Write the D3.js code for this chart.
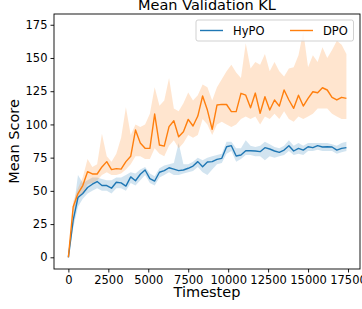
<!DOCTYPE html>
<html>
<head>
<meta charset="utf-8">
<script src="https://cdn.jsdelivr.net/npm/d3@7"></script>
<style>
  body { margin: 0; background: #fff; }
  svg { display: block; font-family: "DejaVu Sans", sans-serif; }
</style>
</head>
<body>
<div id="chart"></div>
<script>
// timesteps of each evaluation
const steps = [0, 300, 600, 900, 1200, 1500, 1800, 2100, 2400, 2700, 3000, 3300, 3600, 3900, 4200,
  4500, 4800, 5100, 5400, 5700, 6000, 6300, 6600, 6900, 7200, 7500, 7800, 8100, 8400, 8700,
  9000, 9300, 9600, 9900, 10200, 10500, 10800, 11100, 11400, 11700, 12000, 12300, 12600, 12900,
  13200, 13500, 13800, 14100, 14400, 14700, 15000, 15300, 15600, 15900, 16200, 16500, 16800,
  17100, 17400];

const hypoMean = [0, 28, 45, 48, 52.5, 55, 57, 54, 54, 52, 56.5, 56, 53.6, 60.5, 57.6,
  62.5, 65.7, 59.2, 57.4, 64, 65.2, 67.4, 66.4, 65.2, 65.7, 67, 68.7, 72, 68.2, 71.7,
  72, 73.7, 74.5, 83.2, 84, 76.2, 77, 80.2, 80.2, 80, 79.5, 82.5, 81.5, 80,
  79, 80.7, 84, 80, 82, 80.7, 83.2, 82.5, 84, 83, 83.2, 83, 80.7, 82, 82.5];
const hypoHigh = [0, 34, 62, 56, 58, 60, 60, 59, 58, 58, 60, 60, 62, 64, 63,
  66, 68, 63, 61, 67, 69, 70, 71, 86, 70, 70, 72, 75, 73, 75,
  76, 77, 78, 87, 87, 82, 82, 88, 84, 83, 84, 87, 85, 83,
  82, 84, 88, 84, 86, 84, 86, 86, 86, 86, 86, 85, 84, 86, 87];
const hypoLow = [0, 22, 38, 44, 48, 50, 52, 50, 50, 48, 52, 52, 50, 56, 54,
  58, 62, 56, 54, 60, 62, 64, 62, 62, 63, 64, 65, 68, 64, 62,
  66, 70, 71, 78, 80, 72, 74, 77, 77, 76, 76, 73, 76, 75,
  76, 77, 80, 77, 78, 77, 80, 80, 81, 80, 80, 80, 78, 79, 80];

const dpoMean = [0, 38, 48, 54, 64.4, 62.7, 62.7, 68, 72, 66, 66.7, 66.4, 72, 76, 95.8,
  86, 82, 82, 107.8, 84.5, 83.7, 98.3, 102.8, 90.7, 94.5, 103.8, 98.8, 106.3, 121.4, 110.8,
  96.3, 114.6, 115.1, 115, 109.6, 109.6, 123.4, 122, 112.5, 123.6, 108.4, 120.8, 110.8, 118.4,
  113.8, 125.9, 118.4, 112.1, 122, 113.8, 119.6, 124.6, 123.8, 127.6, 125.9, 120.4, 118.4, 120.4, 119.6];
const dpoHigh = [0, 42, 52, 60, 74, 68, 70, 93, 76, 72, 78, 90, 113, 92, 100,
  98, 100, 108, 128, 114, 118, 135, 112, 110, 116, 124, 118, 122, 130, 128,
  118, 128, 134, 140, 145, 139, 135, 161, 142, 147, 145, 153, 140, 147,
  140, 136, 142, 143, 152, 170, 143, 152, 147, 158, 150, 156, 163, 160, 153];
const dpoLow = [0, 34, 44, 48, 55, 56, 58, 62, 64, 62, 62, 63, 66, 70, 76,
  76, 74, 74, 82, 78, 76, 84, 88, 82, 86, 92, 90, 92, 104, 100,
  92, 100, 102, 100, 98, 100, 104, 106, 104, 106, 100, 106, 104, 108,
  104, 110, 104, 102, 106, 104, 106, 108, 112, 112, 112, 108, 106, 104, 104];

const xTicks = [0, 2500, 5000, 7500, 10000, 12500, 15000, 17500];
const yTicks = [0, 25, 50, 75, 100, 125, 150, 175];

const W = 362, H = 309;
const pLeft = 54, pRight = 360, pTop = 14, pBottom = 269;

const svg = d3.select('#chart').append('svg')
  .attr('width', W)
  .attr('height', H);

const x = d3.scaleLinear().domain([-900, 18250]).range([pLeft, pRight]);
const y = d3.scaleLinear().domain([-8.8, 183.1]).range([pBottom, pTop]);

const series = [
  { name: 'HyPO', color: '#1f77b4', mean: hypoMean, hi: hypoHigh, lo: hypoLow },
  { name: 'DPO', color: '#ff7f0e', mean: dpoMean, hi: dpoHigh, lo: dpoLow }
];

const area = d3.area()
  .x((d, i) => x(steps[i]))
  .y0(d => y(d[0]))
  .y1(d => y(d[1]));

const line = d3.line()
  .x((d, i) => x(steps[i]))
  .y(d => y(d));

series.forEach(s => {
  svg.append('path')
    .datum(s.lo.map((v, i) => [v, s.hi[i]]))
    .attr('d', area)
    .attr('fill', s.color)
    .attr('fill-opacity', 0.2)
    .attr('stroke', 'none');
});

series.forEach(s => {
  svg.append('path')
    .datum(s.mean)
    .attr('d', line)
    .attr('fill', 'none')
    .attr('stroke', s.color)
    .attr('stroke-width', 1.4)
    .attr('stroke-linejoin', 'round');
});

// axes
const xAxis = d3.axisBottom(x).tickValues(xTicks).tickSize(3.5).tickPadding(3).tickFormat(d3.format('d'));
const yAxis = d3.axisLeft(y).tickValues(yTicks).tickSize(3.5).tickPadding(3).tickFormat(d3.format('d'));

const gx = svg.append('g')
  .attr('transform', `translate(0, ${pBottom})`)
  .call(xAxis);
const gy = svg.append('g')
  .attr('transform', `translate(${pLeft}, 0)`)
  .call(yAxis);

[gx, gy].forEach(g => {
  g.select('.domain').remove();
  g.selectAll('.tick line').attr('stroke', '#000').attr('stroke-width', 0.9);
  g.selectAll('.tick text')
    .attr('fill', '#000')
    .style('font-size', '11.5px')
    .style('font-family', '"DejaVu Sans", sans-serif');
});

// frame
svg.append('rect')
  .attr('x', pLeft)
  .attr('y', pTop)
  .attr('width', pRight - pLeft)
  .attr('height', pBottom - pTop)
  .attr('fill', 'none')
  .attr('stroke', '#000')
  .attr('stroke-width', 0.9);

// labels
svg.append('text')
  .attr('x', (pLeft + pRight) / 2)
  .attr('y', 9.5)
  .attr('text-anchor', 'middle')
  .style('font-size', '14.5px')
  .text('Mean Validation KL');

svg.append('text')
  .attr('x', (pLeft + pRight) / 2)
  .attr('y', 297)
  .attr('text-anchor', 'middle')
  .style('font-size', '14.5px')
  .text('Timestep');

svg.append('text')
  .attr('transform', `translate(19, ${(pTop + pBottom) / 2}) rotate(-90)`)
  .attr('text-anchor', 'middle')
  .style('font-size', '14.5px')
  .text('Mean Score');

// legend
const lg = svg.append('g');
lg.append('rect')
  .attr('x', 196)
  .attr('y', 20)
  .attr('width', 157.5)
  .attr('height', 21)
  .attr('rx', 2)
  .attr('fill', '#fff')
  .attr('fill-opacity', 0.8)
  .attr('stroke', '#cccccc')
  .attr('stroke-width', 0.9);

const legendPos = [200, 290];
series.forEach((s, i) => {
  const lx = legendPos[i];
  lg.append('line')
    .attr('x1', lx)
    .attr('x2', lx + 23)
    .attr('y1', 30.5)
    .attr('y2', 30.5)
    .attr('stroke', s.color)
    .attr('stroke-width', 1.4);
  lg.append('text')
    .attr('x', lx + 33)
    .attr('y', 34.5)
    .style('font-size', '11.5px')
    .text(s.name);
});
</script>
</body>
</html>
